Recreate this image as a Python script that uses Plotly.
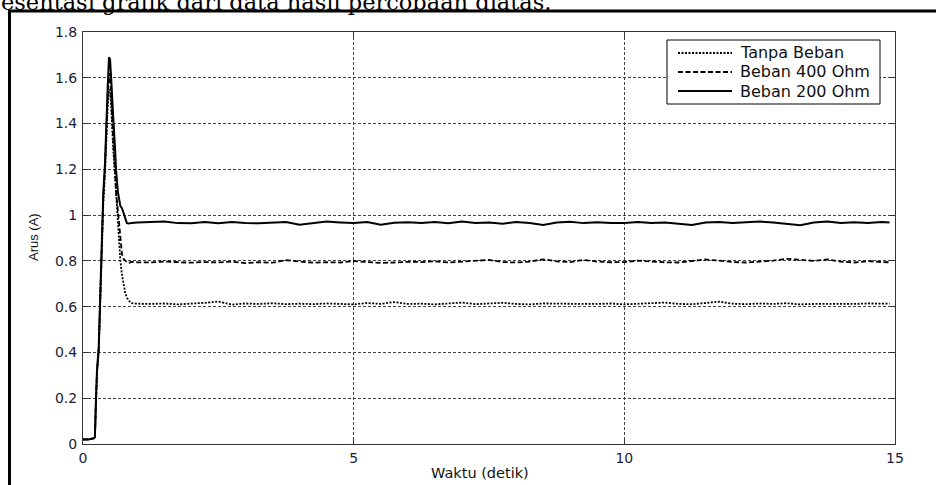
import plotly.graph_objects as go

# ---- data ----
t_transient = [0, 0.1, 0.2, 0.22, 0.24, 0.26, 0.29, 0.31, 0.325, 0.345, 0.375, 0.405, 0.425, 0.455, 0.48,
               0.5, 0.52, 0.535, 0.56, 0.59, 0.61, 0.645, 0.67, 0.69, 0.72, 0.745, 0.78, 0.81, 0.85, 0.9, 1.0]
t_steady = [1.25, 1.5, 1.75, 2.0, 2.25, 2.5, 2.75, 3.0, 3.25, 3.5, 3.75, 4.0, 4.25, 4.5, 4.75, 5.0,
            5.25, 5.5, 5.75, 6.0, 6.25, 6.5, 6.75, 7.0, 7.25, 7.5, 7.75, 8.0, 8.25, 8.5, 8.75, 9.0,
            9.25, 9.5, 9.75, 10.0, 10.25, 10.5, 10.75, 11.0, 11.25, 11.5, 11.75, 12.0, 12.25, 12.5,
            12.75, 13.0, 13.25, 13.5, 13.75, 14.0, 14.25, 14.5, 14.75, 14.9]

tanpa_beban = [0.02, 0.02, 0.025, 0.03, 0.18, 0.31, 0.40, 0.56, 0.72, 0.88, 1.05, 1.17, 1.33, 1.47, 1.54,
               1.55, 1.48, 1.40, 1.28, 1.18, 1.10, 0.98, 0.90, 0.80, 0.74, 0.70, 0.66, 0.64, 0.625, 0.615, 0.613,
               0.612, 0.614, 0.610, 0.612, 0.617, 0.622, 0.609, 0.614, 0.612, 0.615, 0.611, 0.613, 0.611, 0.614,
               0.612, 0.610, 0.616, 0.612, 0.620, 0.612, 0.613, 0.610, 0.614, 0.618, 0.611, 0.613, 0.617, 0.612,
               0.610, 0.614, 0.613, 0.610, 0.612, 0.612, 0.614, 0.610, 0.612, 0.615, 0.618, 0.612, 0.611, 0.616,
               0.622, 0.613, 0.611, 0.614, 0.612, 0.615, 0.610, 0.612, 0.611, 0.613, 0.612, 0.614, 0.612, 0.613]

beban_400 = [0.02, 0.02, 0.025, 0.03, 0.19, 0.32, 0.41, 0.58, 0.74, 0.90, 1.08, 1.20, 1.37, 1.52, 1.62,
             1.60, 1.52, 1.43, 1.32, 1.20, 1.10, 1.02, 0.96, 0.90, 0.83, 0.81, 0.80, 0.795, 0.792, 0.796, 0.794,
             0.793, 0.797, 0.794, 0.792, 0.795, 0.793, 0.797, 0.790, 0.794, 0.792, 0.803, 0.796, 0.792, 0.794,
             0.793, 0.799, 0.795, 0.791, 0.793, 0.796, 0.795, 0.798, 0.793, 0.796, 0.800, 0.804, 0.795, 0.793,
             0.797, 0.807, 0.798, 0.795, 0.804, 0.797, 0.794, 0.795, 0.801, 0.797, 0.794, 0.793, 0.798, 0.806,
             0.801, 0.795, 0.793, 0.797, 0.801, 0.809, 0.803, 0.800, 0.806, 0.797, 0.793, 0.799, 0.795, 0.794]

beban_200 = [0.02, 0.02, 0.025, 0.03, 0.20, 0.33, 0.42, 0.60, 0.75, 0.92, 1.10, 1.22, 1.40, 1.55, 1.69,
             1.68, 1.60, 1.52, 1.42, 1.30, 1.20, 1.10, 1.06, 1.04, 1.03, 1.01, 0.98, 0.965, 0.963, 0.966, 0.968,
             0.970, 0.972, 0.965, 0.964, 0.970, 0.964, 0.970, 0.965, 0.964, 0.966, 0.970, 0.958, 0.966, 0.972,
             0.968, 0.965, 0.970, 0.958, 0.967, 0.969, 0.966, 0.970, 0.964, 0.972, 0.966, 0.968, 0.962, 0.970,
             0.966, 0.957, 0.968, 0.971, 0.965, 0.969, 0.965, 0.965, 0.970, 0.966, 0.968, 0.963, 0.957, 0.968,
             0.970, 0.965, 0.967, 0.972, 0.968, 0.962, 0.956, 0.968, 0.972, 0.966, 0.969, 0.966, 0.970, 0.968]

series_names = ["Tanpa Beban", "Beban 400 Ohm", "Beban 200 Ohm"]
y_ticks = [0, 0.2, 0.4, 0.6, 0.8, 1.0, 1.2, 1.4, 1.6, 1.8]
y_tick_labels = ["0", "0.2", "0.4", "0.6", "0.8", "1", "1.2", "1.4", "1.6", "1.8"]
x_ticks = [0, 5, 10, 15]
x_tick_labels = ["0", "5", "10", "15"]

t = t_transient + t_steady

# ---- layout geometry (pixels) ----
W, H = 936, 485
L, R, T, B = 83, 41, 32, 41
PW, PH = W - L - R, H - T - B


def px(xp):
    return (xp - L) / PW


def py(yp):
    return (H - B - yp) / PH


FONT = "DejaVu Sans, Verdana, sans-serif"
FONT_NARROW = "Liberation Sans, Arial, sans-serif"
dashes = ["2px,1.5px", "5px,2.5px", "solid"]
widths = [1.8, 1.8, 2.0]
series = [tanpa_beban, beban_400, beban_200]

fig = go.Figure()
for name, vals, d, w in zip(series_names, series, dashes, widths):
    fig.add_trace(go.Scatter(x=t, y=vals, mode="lines", name=name,
                             line=dict(color="black", width=w, dash=d), showlegend=False))

axis_common = dict(showline=True, linecolor="#333333", linewidth=1, mirror="allticks",
                   ticks="inside", ticklen=5, tickcolor="#333333",
                   showgrid=True, gridcolor="#444444", gridwidth=1, griddash="3px,2px",
                   zeroline=False, tickfont=dict(family=FONT, size=14, color="#1c1c3a"))

fig.update_layout(
    width=W, height=H,
    margin=dict(l=L, r=R, t=T, b=B, pad=0),
    paper_bgcolor="white", plot_bgcolor="white",
    xaxis=dict(range=[0, 15], tickvals=x_ticks, ticktext=x_tick_labels, ticklabelstandoff=1,
               **axis_common),
    yaxis=dict(range=[0, 1.8], tickvals=y_ticks, ticktext=y_tick_labels, ticklabelstandoff=2,
               **axis_common),
)

shapes = []
# outer frame (document box)
shapes.append(dict(type="line", xref="paper", yref="paper", x0=px(8), x1=px(940), y0=py(11), y1=py(11),
                   line=dict(color="black", width=3)))
shapes.append(dict(type="line", xref="paper", yref="paper", x0=px(9.5), x1=px(9.5), y0=py(10), y1=py(490),
                   line=dict(color="black", width=3)))
# legend box
shapes.append(dict(type="rect", xref="paper", yref="paper", x0=px(667), x1=px(880), y0=py(40), y1=py(104),
                   line=dict(color="black", width=1), fillcolor="white", layer="above"))
leg_rows = [53, 72, 91]
annotations = []
for name, d, w, ry in zip(series_names, dashes, widths, leg_rows):
    shapes.append(dict(type="line", xref="paper", yref="paper", x0=px(678), x1=px(732), y0=py(ry), y1=py(ry),
                       line=dict(color="black", width=w, dash=d), layer="above"))
    annotations.append(dict(text=name, xref="paper", yref="paper", x=px(738), y=py(ry), xanchor="left",
                            yanchor="middle", showarrow=False, font=dict(family=FONT, size=16, color="#111111")))

annotations.append(dict(text="Waktu (detik)", xref="paper", yref="paper", x=px(480), y=py(473),
                        xanchor="center", yanchor="middle", showarrow=False,
                        font=dict(family=FONT, size=14.5, color="#111111")))
annotations.append(dict(text="Arus (A)", xref="paper", yref="paper", x=px(33), y=py(237),
                        xanchor="center", yanchor="middle", textangle=-90, showarrow=False,
                        font=dict(family=FONT_NARROW, size=13, color="#111111")))
annotations.append(dict(text="esentasi grafik dari data hasil percobaan diatas.", xref="paper", yref="paper",
                        x=px(-1), y=py(2), xanchor="left", yanchor="middle", showarrow=False,
                        font=dict(family="DejaVu Serif, Liberation Serif, serif", size=22.5, color="black")))

fig.update_layout(shapes=shapes, annotations=annotations)
fig.write_html("out.html")
